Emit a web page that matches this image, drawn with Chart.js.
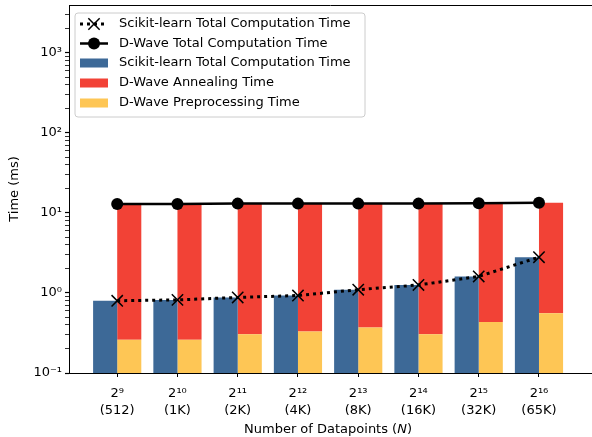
<!DOCTYPE html>
<html>
<head>
<meta charset="utf-8">
<script src="https://cdn.jsdelivr.net/npm/chart.js@4"></script>
<style>
html,body{margin:0;padding:0;background:#fff;}
#wrap{width:592px;height:437px;position:relative;}
</style>
</head>
<body>
<div id="wrap"><canvas id="c" width="592" height="437"></canvas></div>
<script>
// ---- data ----
const categories = ["2⁹", "2¹⁰", "2¹¹", "2¹²", "2¹³", "2¹⁴", "2¹⁵", "2¹⁶"];
const categorySizes = ["(512)", "(1K)", "(2K)", "(4K)", "(8K)", "(16K)", "(32K)", "(65K)"];
const scikitTotal = [0.80, 0.82, 0.88, 0.93, 1.10, 1.26, 1.61, 2.80];
const dwaveTotal = [13.0, 13.0, 13.1, 13.1, 13.1, 13.1, 13.2, 13.4];
const dwavePreprocessing = [0.26, 0.26, 0.305, 0.33, 0.37, 0.305, 0.435, 0.56];
const dwaveAnnealing = [12.74, 12.74, 12.80, 12.77, 12.73, 12.80, 12.77, 12.84];
const yMajorTicks = [0.1, 1, 10, 100, 1000];
const yMajorLabels = ["10⁻¹", "10⁰", "10¹", "10²", "10³"];

const FONT = "'DejaVu Sans', sans-serif";
const toXY = arr => arr.map((v, i) => ({x: i, y: v}));

const legendOrder = [0, 1, 2, 4, 3];

const frameAndLegend = {
  id: 'frameAndLegend',
  afterDraw(chart) {
    const ctx = chart.ctx;
    const a = chart.chartArea;
    ctx.save();
    ctx.strokeStyle = '#000';
    ctx.lineWidth = 1;
    ctx.beginPath();
    ctx.moveTo(a.left, a.top + 0.5);
    ctx.lineTo(a.right, a.top + 0.5);
    ctx.stroke();

    // x-axis title with italic N
    const cx = 328;
    const ty = 430;
    ctx.fillStyle = '#000';
    ctx.textBaseline = 'middle';
    const p1 = 'Number of Datapoints (', p2 = 'N', p3 = ')';
    ctx.font = "13px " + FONT;
    const w1 = ctx.measureText(p1).width, w3 = ctx.measureText(p3).width;
    ctx.font = "italic 13px " + FONT;
    const w2 = ctx.measureText(p2).width;
    let x0 = cx - (w1 + w2 + w3) / 2;
    ctx.textAlign = 'left';
    ctx.font = "13px " + FONT;
    ctx.fillText(p1, x0, ty);
    ctx.font = "italic 13px " + FONT;
    ctx.fillText(p2, x0 + w1, ty);
    ctx.font = "13px " + FONT;
    ctx.fillText(p3, x0 + w1 + w2, ty);

    // legend
    const bx = 75, by = 13, bw = 290, bh = 104, r = 3;
    ctx.beginPath();
    ctx.moveTo(bx + r, by);
    ctx.lineTo(bx + bw - r, by);
    ctx.arcTo(bx + bw, by, bx + bw, by + r, r);
    ctx.lineTo(bx + bw, by + bh - r);
    ctx.arcTo(bx + bw, by + bh, bx + bw - r, by + bh, r);
    ctx.lineTo(bx + r, by + bh);
    ctx.arcTo(bx, by + bh, bx, by + bh - r, r);
    ctx.lineTo(bx, by + r);
    ctx.arcTo(bx, by, bx + r, by, r);
    ctx.closePath();
    ctx.fillStyle = 'rgba(255,255,255,0.8)';
    ctx.fill();
    ctx.strokeStyle = '#cccccc';
    ctx.lineWidth = 1;
    ctx.stroke();

    const rowY = [24, 43.5, 63, 83, 103];
    legendOrder.forEach((di, k) => {
      const ds = chart.data.datasets[di];
      const y = rowY[k];
      const sx0 = 80, sx1 = 108, mx = 94;
      if (ds.type === 'line') {
        ctx.save();
        ctx.strokeStyle = ds.borderColor;
        ctx.lineWidth = ds.borderWidth;
        ctx.setLineDash(ds.borderDash || []);
        ctx.beginPath();
        ctx.moveTo(sx0, y);
        ctx.lineTo(sx1, y);
        ctx.stroke();
        ctx.setLineDash([]);
        if (ds.pointStyle === 'crossRot') {
          const o = ds.pointRadius * Math.SQRT1_2;
          ctx.lineWidth = ds.pointBorderWidth;
          ctx.strokeStyle = ds.pointBorderColor;
          ctx.beginPath();
          ctx.moveTo(mx - o, y - o); ctx.lineTo(mx + o, y + o);
          ctx.moveTo(mx - o, y + o); ctx.lineTo(mx + o, y - o);
          ctx.stroke();
        } else {
          ctx.fillStyle = ds.pointBackgroundColor;
          ctx.beginPath();
          ctx.arc(mx, y, ds.pointRadius, 0, Math.PI * 2);
          ctx.fill();
        }
        ctx.restore();
      } else {
        ctx.fillStyle = ds.backgroundColor;
        ctx.fillRect(sx0, y - 4.5, sx1 - sx0, 9);
      }
      ctx.fillStyle = '#000';
      ctx.font = "13px " + FONT;
      ctx.textAlign = 'left';
      ctx.textBaseline = 'middle';
      ctx.fillText(ds.label, 119, y);
    });
    ctx.restore();
  }
};

new Chart(document.getElementById('c'), {
  type: 'bar',
  data: {
    datasets: [
      {
        type: 'line', label: 'Scikit-learn Total Computation Time',
        data: toXY(scikitTotal), stack: 'l1',
        borderColor: '#000', borderWidth: 3, borderDash: [3, 4], borderCapStyle: 'butt',
        pointStyle: 'crossRot', pointRadius: 8, pointBorderWidth: 1.5,
        pointBorderColor: '#000', pointBackgroundColor: '#000',
        fill: false, tension: 0, order: 0
      },
      {
        type: 'line', label: 'D-Wave Total Computation Time',
        data: toXY(dwaveTotal), stack: 'l2',
        borderColor: '#000', borderWidth: 2.5,
        pointStyle: 'circle', pointRadius: 6, pointBorderWidth: 0,
        pointBorderColor: '#000', pointBackgroundColor: '#000',
        fill: false, tension: 0, order: 0
      },
      {
        type: 'bar', label: 'Scikit-learn Total Computation Time',
        data: toXY(scikitTotal), stack: 'sk',
        backgroundColor: '#3d6997', order: 1
      },
      {
        type: 'bar', label: 'D-Wave Preprocessing Time',
        data: toXY(dwavePreprocessing), stack: 'dw',
        backgroundColor: '#fec655', order: 1
      },
      {
        type: 'bar', label: 'D-Wave Annealing Time',
        data: toXY(dwaveAnnealing), stack: 'dw',
        backgroundColor: '#f24236', order: 1
      }
    ]
  },
  options: {
    responsive: false,
    animation: false,
    devicePixelRatio: 1,
    layout: {autoPadding: false, padding: {top: 5, right: 0, left: 0, bottom: 0}},
    datasets: {bar: {categoryPercentage: 0.8, barPercentage: 1.0, borderWidth: 0}},
    plugins: {legend: {display: false}, tooltip: {enabled: false}},
    scales: {
      x: {
        type: 'linear', min: -0.8, max: 7.88, offset: false, bounds: 'ticks',
        afterBuildTicks: s => { s.ticks = categories.map((c, i) => ({value: i})); },
        afterFit: s => { s.height = 64; s.paddingLeft = 0; s.paddingRight = 0; },
        grid: {display: true, offset: false, drawOnChartArea: false, drawTicks: true, tickLength: 4, color: '#000', tickColor: '#000'},
        border: {display: true, color: '#000', width: 1},
        ticks: {
          autoSkip: false, maxRotation: 0, padding: 8, color: '#000',
          font: {family: FONT, size: 13, lineHeight: 1.3},
          callback: v => (Number.isInteger(v) && v >= 0 && v < categories.length) ? [categories[v], categorySizes[v]] : ''
        },
        title: {display: false}
      },
      y: {
        type: 'logarithmic', min: 0.1, max: 3981, stacked: true,
        afterBuildTicks: s => {
          const t = [];
          for (let e = -1; e <= 3; e++) {
            for (let m = 1; m <= 9; m++) {
              const v = m * Math.pow(10, e);
              if (v <= 3981) t.push({value: v, major: m === 1});
            }
          }
          s.ticks = t;
        },
        afterFit: s => { s.width = 69; s.paddingTop = 0; s.paddingBottom = 0; },
        grid: {display: true, drawOnChartArea: false, drawTicks: true, tickLength: 4, color: '#000', tickColor: '#000',
               tickWidth: c => (c.tick && c.tick.major) ? 1.2 : 0.8},
        border: {display: true, color: '#000', width: 1},
        ticks: {
          autoSkip: false, padding: 3, color: '#000',
          font: {family: FONT, size: 13},
          callback: v => {
            const idx = yMajorTicks.findIndex(m => Math.abs(Math.log10(v) - Math.log10(m)) < 1e-6);
            return idx >= 0 ? yMajorLabels[idx] : '';
          }
        },
        title: {display: true, text: 'Time (ms)', color: '#000', font: {family: FONT, size: 13}, padding: {top: 7, bottom: 0}}
      }
    }
  },
  plugins: [frameAndLegend]
});
</script>
</body>
</html>
